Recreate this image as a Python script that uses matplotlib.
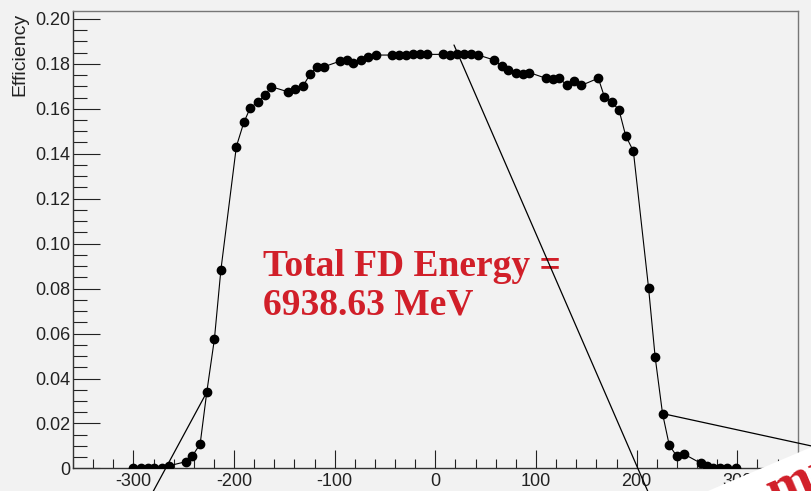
import matplotlib
matplotlib.use("Agg")
import matplotlib.pyplot as plt
from matplotlib.ticker import MultipleLocator, FuncFormatter

# efficiency vs position
pos = [-300.0, -292.6, -285.7, -279.1, -271.8, -264.2, -247.9, -241.4, -233.7, -227.1,
       -219.5, -213.1, -197.7, -190.3, -183.8, -176.1, -169.2, -162.9, -146.0, -139.1,
       -131.4, -124.5, -117.5, -110.6, -94.7, -88.0, -81.5, -73.8, -66.6, -59.2,
       -43.3, -36.1, -29.4, -22.4, -15.2, -8.5, 7.6, 14.6, 21.3, 28.5,
       35.2, 42.7, 58.3, 66.0, 72.5, 80.2, 86.8, 93.4, 109.7, 116.6,
       123.2, 130.5, 138.1, 145.0, 161.9, 167.9, 175.2, 182.5, 189.1, 196.7,
       211.8, 218.4, 225.7, 232.4, 239.8, 246.6, 263.7, 270.1, 276.1, 282.8,
       290.1, 298.7]
eff = [0.0, 0.0, 0.0, 0.0, 0.0, 0.0012, 0.0030, 0.0056, 0.0108, 0.0339,
       0.0576, 0.0882, 0.1432, 0.1539, 0.1605, 0.1630, 0.1662, 0.1698, 0.1675, 0.1690,
       0.1702, 0.1753, 0.1786, 0.1787, 0.1812, 0.1816, 0.1805, 0.1817, 0.1832, 0.1839,
       0.1839, 0.1839, 0.1839, 0.1842, 0.1842, 0.1842, 0.1842, 0.1841, 0.1845, 0.1842,
       0.1842, 0.1839, 0.1817, 0.1790, 0.1771, 0.1761, 0.1756, 0.1761, 0.1736, 0.1731,
       0.1736, 0.1705, 0.1724, 0.1704, 0.1736, 0.1654, 0.1631, 0.1594, 0.1480, 0.1412,
       0.0804, 0.0494, 0.0244, 0.0103, 0.0055, 0.0065, 0.0023, 0.0009, 0.0004, 0.0004,
       0.0, 0.0]

label_text = "Total FD Energy =\n6938.63 MeV"
stamp_text = "      mu"
red = "#d11f29"
bg = "#f2f2f2"

fig = plt.figure(figsize=(8.12, 4.91), dpi=100, facecolor=bg)
ax = fig.add_axes([0.0899, 0.046, 0.8925, 0.9316], facecolor=bg)

ax.plot(pos, eff, color="black", lw=0.8, marker="o", ms=6, mfc="black", mec="black", zorder=3)

ax.set_xlim(-360, 360)
ax.set_ylim(0, 0.2035)
ax.xaxis.set_major_locator(MultipleLocator(100))
ax.xaxis.set_minor_locator(MultipleLocator(20))
ax.yaxis.set_major_locator(MultipleLocator(0.02))
ax.yaxis.set_minor_locator(MultipleLocator(0.005))
ax.yaxis.set_major_formatter(FuncFormatter(lambda v, p: "0" if abs(v) < 1e-9 else "%.2f" % v))
ax.xaxis.set_major_formatter(FuncFormatter(lambda v, p: "%d" % round(v)))

ax.tick_params(axis="y", which="major", direction="in", length=19.5, width=0.8, labelsize=13, pad=2, colors="#222222")
ax.tick_params(axis="y", which="minor", direction="in", length=10, width=0.8, colors="#222222")
ax.tick_params(axis="x", which="major", direction="in", length=12.7, width=0.8, labelsize=13, pad=3, colors="#222222")
ax.tick_params(axis="x", which="minor", direction="in", length=6.5, width=0.8, colors="#222222")
for lab in ax.get_xticklabels() + ax.get_yticklabels():
    lab.set_fontfamily("Liberation Sans")

for s in ["top", "right"]:
    ax.spines[s].set_color("#777777")
    ax.spines[s].set_linewidth(1.0)
for s in ["left", "bottom"]:
    ax.spines[s].set_color("#333333")
    ax.spines[s].set_linewidth(1.0)

ax.set_ylabel("Efficiency", fontsize=14, family="Liberation Sans", color="#222222")
ax.yaxis.set_label_coords(-0.073, 0.995)
ax.yaxis.label.set_horizontalalignment("right")
ax.yaxis.label.set_verticalalignment("center")

ax.text(0.262, 0.48, label_text, transform=ax.transAxes, color=red, fontsize=27,
        family="Liberation Serif", fontweight="bold", va="top", ha="left", linespacing=1.12)

# annotation lines from the slide
line_kw = dict(arrowstyle="-", color="black", lw=0.9, shrinkA=0, shrinkB=0)
ax.annotate("", xy=(pos[9], eff[9]), xytext=(148, -10), textcoords="figure pixels",
            arrowprops=line_kw, annotation_clip=False)
ax.annotate("", xy=(454, 446), xycoords="figure pixels", xytext=(652, -10),
            textcoords="figure pixels", arrowprops=line_kw, annotation_clip=False)
ax.annotate("", xy=(pos[62], eff[62]), xytext=(830, 41), textcoords="figure pixels",
            arrowprops=line_kw, annotation_clip=False)

# rotated stamp partly off the page
fig.text(0.860, -0.103, stamp_text, rotation=23, rotation_mode="anchor", color=red, fontsize=40,
         family="Liberation Serif", fontweight="bold", ha="left", va="baseline",
         bbox=dict(fc="white", ec="none", pad=2))

fig.savefig("out.png", dpi=100, facecolor=bg)
